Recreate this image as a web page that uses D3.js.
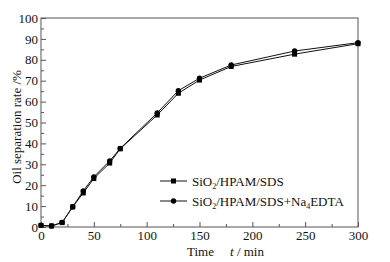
<!DOCTYPE html>
<html>
<head>
<meta charset="utf-8">
<script src="https://cdn.jsdelivr.net/npm/d3@7"></script>
<style>
  body { margin: 0; background: #fff; }
  svg { display: block; }
  svg text { font-family: "Liberation Serif", "DejaVu Serif", serif; }
</style>
</head>
<body>
<div id="chart"></div>
<script>
const times = [0, 10, 20, 30, 40, 50, 65, 75, 110, 130, 150, 180, 240, 300];
const sdsValues = [0.8, 0.5, 2.1, 9.6, 16.3, 23.2, 30.6, 37.4, 53.6, 64.0, 70.3, 76.8, 82.7, 87.7];
const edtaValues = [0.8, 0.5, 2.2, 9.7, 17.2, 24.0, 31.6, 37.6, 54.6, 65.2, 71.2, 77.5, 84.2, 88.2];
const xTicks = [0, 50, 100, 150, 200, 250, 300];
const yTicks = [0, 10, 20, 30, 40, 50, 60, 70, 80, 90, 100];
const legendLabels = ['SiO2/HPAM/SDS', 'SiO2/HPAM/SDS+Na4EDTA'];

const W = 390, H = 262;
const margin = { top: 18, right: 32, bottom: 35, left: 41 };
const innerW = W - margin.left - margin.right;
const innerH = H - margin.top - margin.bottom;
const fs = '13px';

const svg = d3.select('#chart').append('svg').attr('width', W).attr('height', H);
const g = svg.append('g').attr('transform', `translate(${margin.left},${margin.top})`);

const x = d3.scaleLinear().domain([0, 300]).range([0, innerW]);
const y = d3.scaleLinear().domain([0, 100]).range([innerH, 0]);
const axisColor = '#555';

// frame
g.append('rect').attr('width', innerW).attr('height', innerH)
  .attr('fill', 'none').attr('stroke', axisColor).attr('stroke-width', 1);

// minor ticks (inward)
g.append('g').attr('transform', `translate(0,${innerH})`)
  .call(d3.axisBottom(x).tickValues(d3.range(25, 300, 50)).tickSize(-3).tickFormat(''))
  .call((a) => a.select('.domain').remove())
  .call((a) => a.selectAll('line').attr('stroke', axisColor));
g.append('g')
  .call(d3.axisLeft(y).tickValues(d3.range(5, 100, 10)).tickSize(-3).tickFormat(''))
  .call((a) => a.select('.domain').remove())
  .call((a) => a.selectAll('line').attr('stroke', axisColor));

// major ticks
g.append('g').attr('transform', `translate(0,${innerH})`)
  .call(d3.axisBottom(x).tickValues(xTicks).tickSize(-5).tickPadding(2))
  .call((a) => a.select('.domain').remove())
  .call((a) => a.selectAll('line').attr('stroke', axisColor))
  .call((a) => a.selectAll('text').attr('fill', '#111').attr('font-size', fs)
    .attr('font-family', '"Liberation Serif", serif').attr('dy', '0.85em'));
g.append('g')
  .call(d3.axisLeft(y).tickValues(yTicks).tickSize(-5).tickPadding(3))
  .call((a) => a.select('.domain').remove())
  .call((a) => a.selectAll('line').attr('stroke', axisColor))
  .call((a) => a.selectAll('text').attr('fill', '#111').attr('font-size', fs)
    .attr('font-family', '"Liberation Serif", serif'));

const line = d3.line().x((d) => x(d[0])).y((d) => y(d[1]));
const sds = times.map((t, i) => [t, sdsValues[i]]);
const edta = times.map((t, i) => [t, edtaValues[i]]);

[sds, edta].forEach((data) => {
  g.append('path').datum(data).attr('d', line)
    .attr('fill', 'none').attr('stroke', '#111').attr('stroke-width', 1);
});

g.selectAll('rect.sq').data(sds).join('rect').attr('class', 'sq')
  .attr('x', (d) => x(d[0]) - 2.5).attr('y', (d) => y(d[1]) - 2.5)
  .attr('width', 5).attr('height', 5).attr('fill', '#000');
g.selectAll('circle.dot').data(edta).join('circle').attr('class', 'dot')
  .attr('cx', (d) => x(d[0])).attr('cy', (d) => y(d[1])).attr('r', 2.7).attr('fill', '#000');

// legend
const lg = svg.append('g').attr('transform', 'translate(160,181)');
legendLabels.forEach((lab, i) => {
  const row = lg.append('g').attr('transform', `translate(0,${i * 20})`);
  row.append('line').attr('x1', 0).attr('x2', 27).attr('stroke', '#111').attr('stroke-width', 1);
  if (i === 0) row.append('rect').attr('x', 11).attr('y', -2.5).attr('width', 5).attr('height', 5).attr('fill', '#000');
  else row.append('circle').attr('cx', 13.5).attr('r', 2.7).attr('fill', '#000');
  const t = row.append('text').attr('x', 32).attr('y', 4.5).attr('fill', '#111').attr('font-size', fs);
  let sub = false;
  lab.split(/(\d)/).forEach((p) => {
    if (!p) return;
    if (/^\d$/.test(p)) {
      t.append('tspan').attr('dy', 3).attr('font-size', '8px').text(p);
      sub = true;
    } else {
      t.append('tspan').attr('dy', sub ? -3 : 0).text(p);
      sub = false;
    }
  });
});

// axis titles
svg.append('text').attr('transform', 'translate(21,127) rotate(-90)')
  .attr('text-anchor', 'middle').attr('fill', '#111').attr('font-size', fs)
  .text('Oil separation rate /%');
const xt = svg.append('text').attr('x', 187).attr('y', 256).attr('fill', '#111').attr('font-size', fs);
xt.append('tspan').text('Time');
xt.append('tspan').attr('x', 230).attr('font-style', 'italic').text('t');
xt.append('tspan').text(' / min');
</script>
</body>
</html>
